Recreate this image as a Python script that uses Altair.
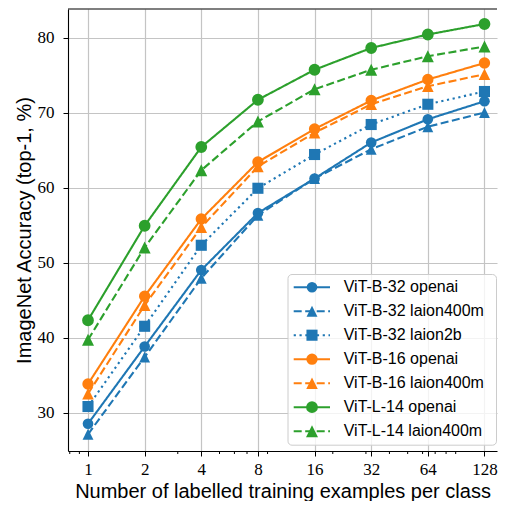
import altair as alt
import pandas as pd

shots = [1, 2, 4, 8, 16, 32, 64, 128]
minor_ticks = [0.8, 0.9, 3, 5, 6, 7, 9, 20, 30, 40, 50, 60, 70, 80, 90]
y_ticks = [30, 40, 50, 60, 70, 80]

series_names = ["ViT-B-32 openai", "ViT-B-32 laion400m", "ViT-B-32 laion2b",
                "ViT-B-16 openai", "ViT-B-16 laion400m", "ViT-L-14 openai",
                "ViT-L-14 laion400m"]
b32_openai = [28.5, 38.8, 49.0, 56.6, 61.2, 66.0, 69.1, 71.5]
b32_laion400m = [27.1, 37.4, 47.9, 56.3, 61.2, 65.1, 68.1, 70.0]
b32_laion2b = [30.8, 41.5, 52.3, 59.9, 64.4, 68.4, 71.1, 72.8]
b16_openai = [33.8, 45.5, 55.8, 63.4, 67.8, 71.6, 74.4, 76.6]
b16_laion400m = [32.5, 44.3, 54.7, 62.8, 67.3, 71.1, 73.5, 75.1]
l14_openai = [42.3, 54.9, 65.4, 71.7, 75.7, 78.6, 80.4, 81.8]
l14_laion400m = [39.7, 52.0, 62.3, 68.8, 73.1, 75.7, 77.5, 78.8]
all_values = [b32_openai, b32_laion400m, b32_laion2b, b16_openai,
              b16_laion400m, l14_openai, l14_laion400m]

BLUE, ORANGE, GREEN = "#1f77b4", "#ff7f0e", "#2ca02c"
colors = [BLUE, BLUE, BLUE, ORANGE, ORANGE, GREEN, GREEN]
TRI = "M0,-1L1,1L-1,1Z"
shapes = ["circle", TRI, "square", "circle", TRI, "circle", TRI]
sizes = [113, 144, 136, 113, 144, 113, 144]
SOLID, DASH, DOT = [1, 0], [8, 3.5], [2.2, 3.6]
dashes = [SOLID, DASH, DOT, SOLID, DASH, SOLID, DASH]

rows = []
for name, vals in zip(series_names, all_values):
    for s, v in zip(shots, vals):
        rows.append({"series": name, "shots": s, "acc": v})
df = pd.DataFrame(rows)
legend_df = pd.DataFrame({"series": series_names})
minor_df = pd.DataFrame({"shots": minor_ticks})

W, H = 429, 442

xscale = alt.Scale(type="log", base=2, domain=[0.7829, 149.2], nice=False)
yscale = alt.Scale(domain=[24.87, 83.8], nice=False, zero=False)
color_enc = alt.Color("series:N", scale=alt.Scale(domain=series_names, range=colors), legend=None)
shape_enc = alt.Shape("series:N", scale=alt.Scale(domain=series_names, range=shapes), legend=None)
size_enc = alt.Size("series:N", scale=alt.Scale(domain=series_names, range=sizes), legend=None)
dash_enc = alt.StrokeDash("series:N", scale=alt.Scale(domain=series_names, range=dashes), legend=None)

x_axis = alt.Axis(values=shots, format="d", title="Number of labelled training examples per class")
y_axis = alt.Axis(values=y_ticks, format="d", title="ImageNet Accuracy (top-1, %)")
x_enc = alt.X("shots:Q", scale=xscale, axis=x_axis)
y_enc = alt.Y("acc:Q", scale=yscale, axis=y_axis)

lines = alt.Chart(df).mark_line(strokeWidth=2.1).encode(
    x=x_enc, y=y_enc, color=color_enc, strokeDash=dash_enc, detail="series:N")
points = alt.Chart(df).mark_point(filled=True, opacity=1, strokeWidth=0).encode(
    x=x_enc, y=y_enc, color=color_enc, shape=shape_enc, size=size_enc)
minor = alt.Chart(minor_df).mark_rule(color="black", strokeWidth=1).encode(
    x=x_enc, y=alt.value(H), y2=alt.value(H + 3))
top_border = alt.Chart(pd.DataFrame({"a": [0]})).mark_rule(color="black", strokeWidth=1.1).encode(
    x=alt.value(0), x2=alt.value(W), y=alt.value(0))

main = alt.layer(lines, points, minor, top_border)

leg_y = alt.Y("series:N", scale=alt.Scale(type="point", domain=series_names,
                                          range=[278.2, 422.2], padding=0), axis=None)
frame = alt.Chart(pd.DataFrame({"a": [0]})).mark_rect(
    fill="white", fillOpacity=0.8, stroke="#cccccc", strokeWidth=1, cornerRadius=4
).encode(x=alt.value(220), x2=alt.value(428.5), y=alt.value(265.5), y2=alt.value(436.2))
leg_lines = alt.Chart(legend_df).mark_rule(strokeWidth=2.1).encode(
    x=alt.value(225.7), x2=alt.value(262), y=leg_y, color=color_enc, strokeDash=dash_enc)
leg_pts = alt.Chart(legend_df).mark_point(filled=True, opacity=1, strokeWidth=0).encode(
    x=alt.value(244), y=leg_y, color=color_enc, shape=shape_enc, size=size_enc)
leg_text = alt.Chart(legend_df).mark_text(
    align="left", baseline="middle", font="Liberation Sans", fontSize=16, color="black"
).encode(x=alt.value(275.7), y=leg_y, text="series:N")
legend = alt.layer(frame, leg_lines, leg_pts, leg_text)

chart = alt.layer(main, legend).resolve_scale(y="independent").properties(
    width=W, height=H, padding={"left": 6, "top": 0, "right": 0, "bottom": 0}
).configure_view(strokeWidth=0).configure_axis(
    labelFont="Liberation Serif", labelFontSize=17, labelColor="black",
    titleFont="Liberation Sans", titleFontSize=20, titleFontWeight="normal", titleColor="black",
    tickColor="black", tickSize=5, tickWidth=1, domain=True, domainColor="black", domainWidth=1.1,
    gridColor="#c4c4c4", gridWidth=1.2
).configure_axisX(labelPadding=5, titlePadding=4
).configure_axisY(labelPadding=9, titlePadding=3)

chart.save("out.html", embed_options={"renderer": "svg", "actions": False})
